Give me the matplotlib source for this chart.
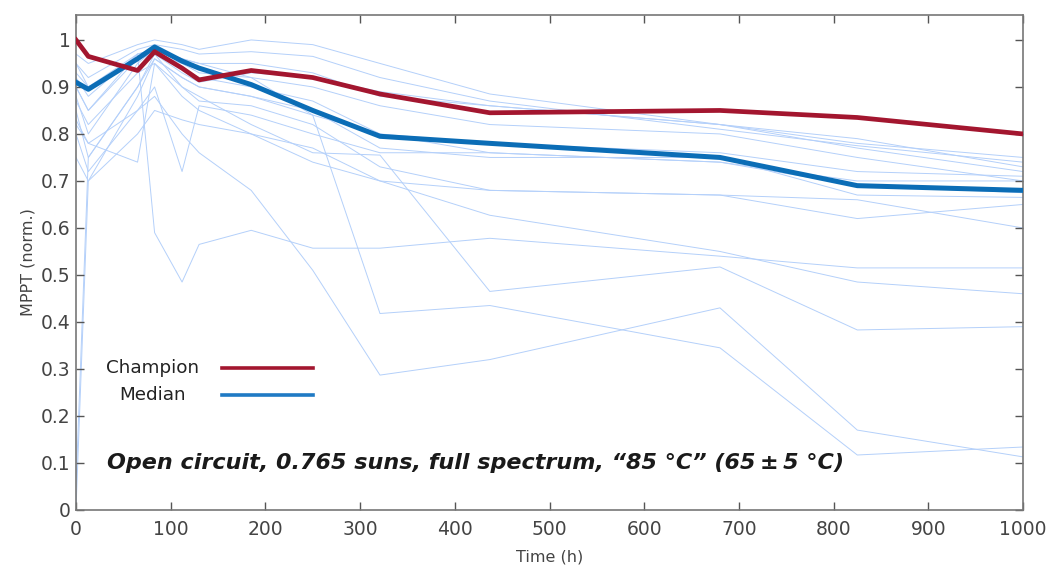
import matplotlib
matplotlib.use("Agg")
import matplotlib.pyplot as plt
from matplotlib.lines import Line2D

plt.rcParams["font.family"] = ["DejaVu Sans"]

# ---- data ----
time_h = [0, 13, 65, 83, 112, 130, 185, 250, 321, 437, 680, 825, 1000]

champion = [1.0, 0.965, 0.935, 0.975, 0.94, 0.915, 0.935, 0.92, 0.885, 0.845, 0.85, 0.835, 0.80]
median = [0.91, 0.895, 0.96, 0.985, 0.955, 0.94, 0.905, 0.85, 0.795, 0.78, 0.75, 0.69, 0.68]

dev01 = [0.97, 0.95, 0.99, 1.0, 0.99, 0.98, 1.0, 0.99, 0.95, 0.885, 0.82, 0.78, 0.75]
dev02 = [0.95, 0.92, 0.98, 0.99, 0.98, 0.97, 0.975, 0.965, 0.92, 0.87, 0.81, 0.775, 0.74]
dev03 = [0.93, 0.90, 0.97, 0.98, 0.96, 0.95, 0.95, 0.93, 0.88, 0.86, 0.82, 0.77, 0.72]
dev04 = [0.90, 0.85, 0.96, 0.97, 0.95, 0.93, 0.92, 0.90, 0.86, 0.82, 0.80, 0.75, 0.70]
dev05 = [0.88, 0.80, 0.95, 0.98, 0.94, 0.92, 0.90, 0.87, 0.80, 0.76, 0.74, 0.69, 0.675]
dev06 = [0.85, 0.75, 0.90, 0.96, 0.92, 0.90, 0.88, 0.85, 0.77, 0.75, 0.75, 0.67, 0.665]
dev07 = [0.82, 0.78, 0.74, 0.95, 0.90, 0.87, 0.86, 0.82, 0.73, 0.68, 0.67, 0.66, 0.60]
dev08 = [0.95, 0.90, 0.96, 0.97, 0.90, 0.88, 0.82, 0.76, 0.755, 0.465, 0.517, 0.383, 0.39]
dev09 = [0.80, 0.72, 0.85, 0.88, 0.80, 0.76, 0.68, 0.51, 0.287, 0.32, 0.43, 0.17, 0.113]
dev10 = [0.92, 0.88, 0.97, 0.98, 0.96, 0.95, 0.92, 0.84, 0.418, 0.435, 0.345, 0.117, 0.134]
dev11 = [0.90, 0.85, 0.97, 0.59, 0.485, 0.565, 0.595, 0.557, 0.557, 0.578, 0.54, 0.515, 0.515]
dev12 = [0.87, 0.82, 0.93, 0.95, 0.88, 0.85, 0.80, 0.74, 0.70, 0.627, 0.55, 0.485, 0.46]
dev13 = [0.83, 0.78, 0.85, 0.90, 0.72, 0.86, 0.84, 0.80, 0.76, 0.76, 0.74, 0.70, 0.70]
dev14 = [0.0, 0.70, 0.88, 0.96, 0.92, 0.90, 0.88, 0.84, 0.80, 0.78, 0.76, 0.72, 0.71]
dev15 = [0.05, 0.75, 0.90, 0.97, 0.93, 0.91, 0.93, 0.92, 0.89, 0.86, 0.82, 0.79, 0.73]
dev16 = [0.75, 0.70, 0.80, 0.85, 0.83, 0.82, 0.80, 0.77, 0.70, 0.68, 0.67, 0.62, 0.65]

devices = [dev01, dev02, dev03, dev04, dev05, dev06, dev07, dev08,
           dev09, dev10, dev11, dev12, dev13, dev14, dev15, dev16]

x_ticks = [0, 100, 200, 300, 400, 500, 600, 700, 800, 900, 1000]
y_ticks = [0, 0.1, 0.2, 0.3, 0.4, 0.5, 0.6, 0.7, 0.8, 0.9, 1.0]
y_ticklabels = ["0", "0.1", "0.2", "0.3", "0.4", "0.5", "0.6", "0.7", "0.8", "0.9", "1"]

# ---- figure ----
fig = plt.figure(figsize=(10.54, 5.69), dpi=100)
ax = fig.add_axes([0.0721, 0.1037, 0.8985, 0.8699])

for d in devices:
    ax.plot(time_h, d, color="#b4d0fa", lw=0.7, zorder=1)

ax.plot(time_h, median, color="#0b6db6", lw=3.6, solid_joinstyle="round", zorder=3)
ax.plot(time_h, champion, color="#a3162f", lw=3.4, solid_joinstyle="round", zorder=4)

ax.set_xlim(0, 1000)
ax.set_ylim(0, 1.053)
ax.set_xticks(x_ticks)
ax.set_yticks(y_ticks)
ax.set_yticklabels(y_ticklabels)
ax.tick_params(direction="in", length=6, width=1, colors="#555555",
               labelsize=13.5, top=True, right=True, labelcolor="#444444")
ax.tick_params(axis="x", pad=7)
ax.tick_params(axis="y", pad=4)
for s in ax.spines.values():
    s.set_color("#777777")
    s.set_linewidth(1.2)

ax.set_xlabel("Time (h)", fontsize=11.5, color="#444444", labelpad=8)
ax.set_ylabel("MPPT (norm.)", fontsize=11.5, color="#444444", labelpad=4)

# legend (gnuplot style: centered text, sample to the right)
for label, col, yy in [("Champion", "#a3162f", 0.287), ("Median", "#1f7ac4", 0.232)]:
    ax.text(0.081, yy, label, transform=ax.transAxes, ha="center", va="center",
            fontsize=13.2, color="#222222")
    ax.add_line(Line2D([0.154, 0.250], [yy, yy], transform=ax.transAxes,
                       color=col, lw=2.6, zorder=5))

ax.text(0.033, 0.095, "Open circuit, 0.765 suns, full spectrum, \u201c85 \u00b0C\u201d (65\u2009\u00b1\u20095 \u00b0C)",
        transform=ax.transAxes, ha="left", va="center", fontsize=16,
        fontweight="bold", fontstyle="italic", family=["DejaVu Sans"],
        color="#1a1a1a")

fig.savefig("out.png", dpi=100)
